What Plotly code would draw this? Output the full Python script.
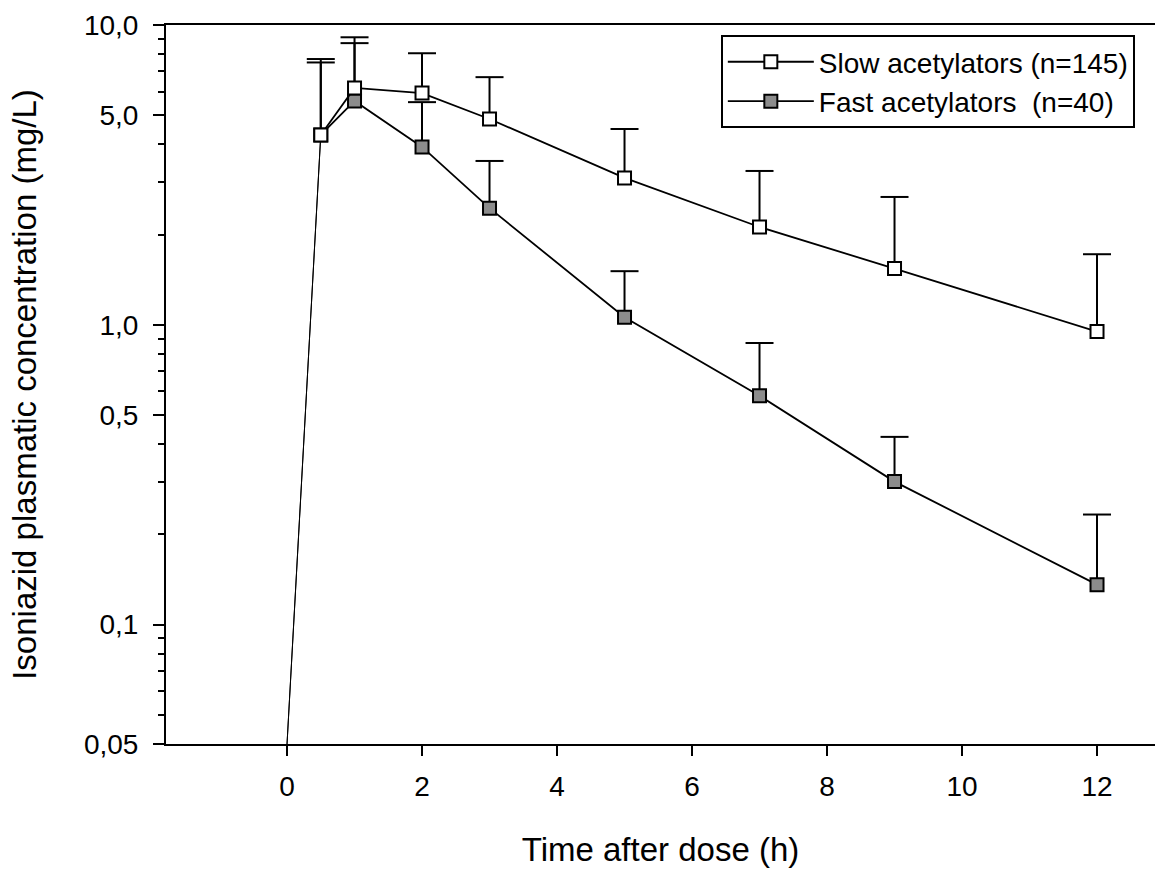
import math
import plotly.graph_objects as go

# Sampling times (h)
time_h = [0, 0.5, 1, 2, 3, 5, 7, 9, 12]

# Mean isoniazid concentration (mg/L); the t=0 value sits at the axis floor
slow_mean = [0.04, 4.30, 6.17, 5.93, 4.86, 3.09, 2.12, 1.54, 0.95]
fast_mean = [0.04, 4.30, 5.58, 3.92, 2.45, 1.06, 0.58, 0.30, 0.136]

# Standard deviations (upper error bars only), for t >= 0.5 h
slow_sd = [3.20, 2.93, 2.12, 1.84, 1.41, 1.14, 1.13, 0.77]
fast_sd = [3.40, 3.12, 1.61, 1.07, 0.45, 0.29, 0.123, 0.097]

# Axis ticks
x_ticks = [0, 2, 4, 6, 8, 10, 12]
y_floor = 0.04
y_tick_vals = [y_floor, 0.1, 0.5, 1, 5, 10]
y_tick_text = ["0,05", "0,1", "0,5", "1,0", "5,0", "10,0"]
y_minor_vals = [0.05, 0.06, 0.07, 0.08, 0.09, 0.2, 0.3, 0.4, 0.6, 0.7, 0.8, 0.9,
                2, 3, 4, 6, 7, 8, 9]

FONT = "Arial, Liberation Sans, sans-serif"

fig = go.Figure()


def add_series(name, mean, sd, fill, rank):
    t = time_h[1:]
    m = mean[1:]
    upper = [a + b for a, b in zip(m, sd)]

    # upper error bars: stem from the mean to mean + SD, with a cap
    stem_x, stem_y = [], []
    for ti, mi, ui in zip(t, m, upper):
        stem_x += [ti, ti, None]
        stem_y += [mi, ui, None]
    fig.add_trace(go.Scatter(
        x=stem_x, y=stem_y, mode="lines",
        line=dict(color="black", width=2),
        showlegend=False, hoverinfo="skip",
    ))
    fig.add_trace(go.Scatter(
        x=t, y=upper, mode="markers",
        marker=dict(symbol="line-ew", size=20,
                    line=dict(color="black", width=2)),
        showlegend=False, hoverinfo="skip",
    ))

    # thin rise from the pre-dose point
    fig.add_trace(go.Scatter(
        x=time_h[:2], y=mean[:2], mode="lines",
        line=dict(color="black", width=1),
        showlegend=False, hoverinfo="skip",
    ))
    fig.add_trace(go.Scatter(
        x=t, y=m, mode="lines+markers", name=name,
        legendrank=rank,
        line=dict(color="black", width=1.8),
        marker=dict(symbol="square", size=13, color=fill,
                    line=dict(color="black", width=2)),
    ))


# fast drawn first so the open squares sit on top
add_series("Fast acetylators  (n=40)", fast_mean, fast_sd, "#8c8c8c", 2)
add_series("Slow acetylators (n=145)", slow_mean, slow_sd, "white", 1)

fig.update_layout(
    width=1155, height=869,
    margin=dict(l=166, r=0, t=25, b=125),
    paper_bgcolor="white", plot_bgcolor="white",
    font=dict(family=FONT, color="black", size=28),
    showlegend=True,
    legend=dict(
        x=0.561, y=0.986, xanchor="left", yanchor="top",
        bgcolor="white", bordercolor="black", borderwidth=2,
        font=dict(size=28, family=FONT), itemwidth=86,
        tracegroupgap=0,
    ),
    xaxis=dict(
        range=[-1.793, 12.859],
        tickmode="array", tickvals=x_ticks,
        ticks="outside", ticklen=10, tickwidth=2, tickcolor="black",
        showline=True, linecolor="black", linewidth=2, mirror=True,
        showgrid=False, zeroline=False,
        tickfont=dict(size=28, family=FONT), ticklabelstandoff=6,
        title=dict(text="Time after dose (h)", font=dict(size=33, family=FONT),
                   standoff=37),
    ),
    yaxis=dict(
        type="log",
        range=[math.log10(y_floor), 1],
        tickmode="array", tickvals=y_tick_vals, ticktext=y_tick_text,
        ticks="outside", ticklen=11, tickwidth=2, tickcolor="black",
        minor=dict(tickmode="array", tickvals=y_minor_vals, ticks="outside",
                   ticklen=6, tickwidth=2, tickcolor="black", showgrid=False),
        showline=True, linecolor="black", linewidth=2, mirror=False,
        showgrid=False, zeroline=False,
        tickfont=dict(size=28, family=FONT), ticklabelstandoff=9,
        title=dict(text="Isoniazid plasmatic concentration (mg/L)",
                   font=dict(size=33, family=FONT), standoff=37),
    ),
)

fig.write_html("out.html")
